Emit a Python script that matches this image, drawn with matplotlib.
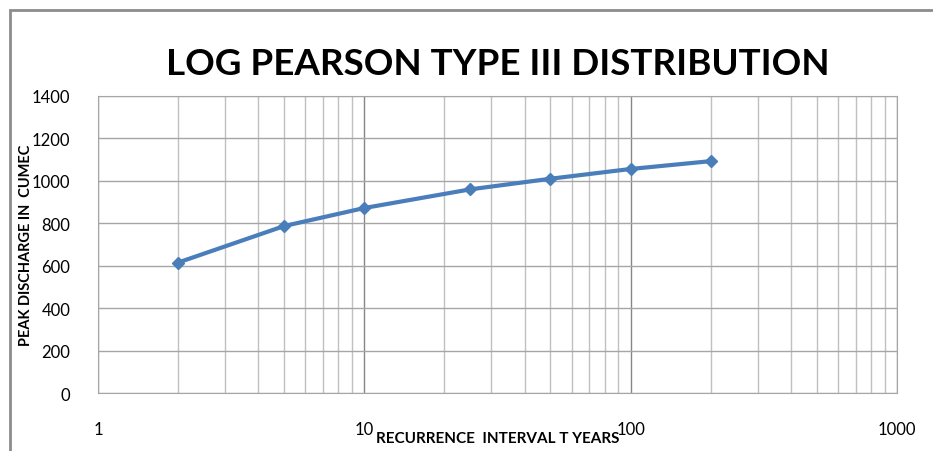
"""
Log Pearson Type III distribution - peak discharge vs recurrence interval.
"""

import matplotlib.pyplot as plt
from matplotlib.patches import Rectangle
from matplotlib.ticker import NullFormatter, LogLocator

# recurrence interval (years) and peak discharge (cumec)
T_years = [2, 5, 10, 25, 50, 100, 200]
discharge = [615, 787, 872, 960, 1010, 1056, 1093]

x_ticks = [1, 10, 100, 1000]
x_labels = ["1", "10", "100", "1000"]
y_ticks = [0, 200, 400, 600, 800, 1000, 1200, 1400]

plt.rcParams["font.family"] = ["Lato", "DejaVu Sans"]

fig = plt.figure(figsize=(9.33, 4.52), dpi=100)
ax = fig.add_axes([0.105, 0.1283, 0.8564, 0.6571])

# outer chart frame (runs off the right and bottom edges)
fig.patches.append(Rectangle((9.5 / 933, -0.1), 1.2, 1.1 - 10.5 / 452,
                             transform=fig.transFigure, fill=False,
                             edgecolor="#8c8c8c", linewidth=2))

ax.plot(T_years, discharge, color="#4a7ebb", linewidth=3, marker="D",
        markersize=6, markeredgecolor="#4a7ebb", zorder=3)

ax.set_xscale("log")
ax.set_xlim(1, 1000)
ax.set_ylim(0, 1400)
ax.set_xticks(x_ticks)
ax.set_xticklabels(x_labels)
ax.xaxis.set_minor_locator(LogLocator(base=10, subs=range(2, 10)))
ax.xaxis.set_minor_formatter(NullFormatter())
ax.set_yticks(y_ticks)

ax.grid(which="major", axis="x", color="#868686", linewidth=1)
ax.grid(which="minor", axis="x", color="#c0c0c0", linewidth=1)
ax.grid(which="major", axis="y", color="#a6a6a6", linewidth=1)
ax.set_axisbelow(True)

for s in ax.spines.values():
    s.set_color("#a6a6a6")
ax.tick_params(which="both", length=0, labelsize=12, colors="black")
ax.tick_params(axis="x", pad=20)
ax.tick_params(axis="y", pad=20)

ax.set_title("LOG PEARSON TYPE III DISTRIBUTION", fontsize=26.5,
             fontweight="bold", pad=16)
ax.set_xlabel("RECURRENCE  INTERVAL T YEARS", fontsize=11,
              fontweight="bold", labelpad=-4)
ax.set_ylabel("PEAK DISCHARGE IN  CUMEC", fontsize=10.5,
              fontweight="bold", labelpad=-1)

plt.savefig("out.png", dpi=100)
